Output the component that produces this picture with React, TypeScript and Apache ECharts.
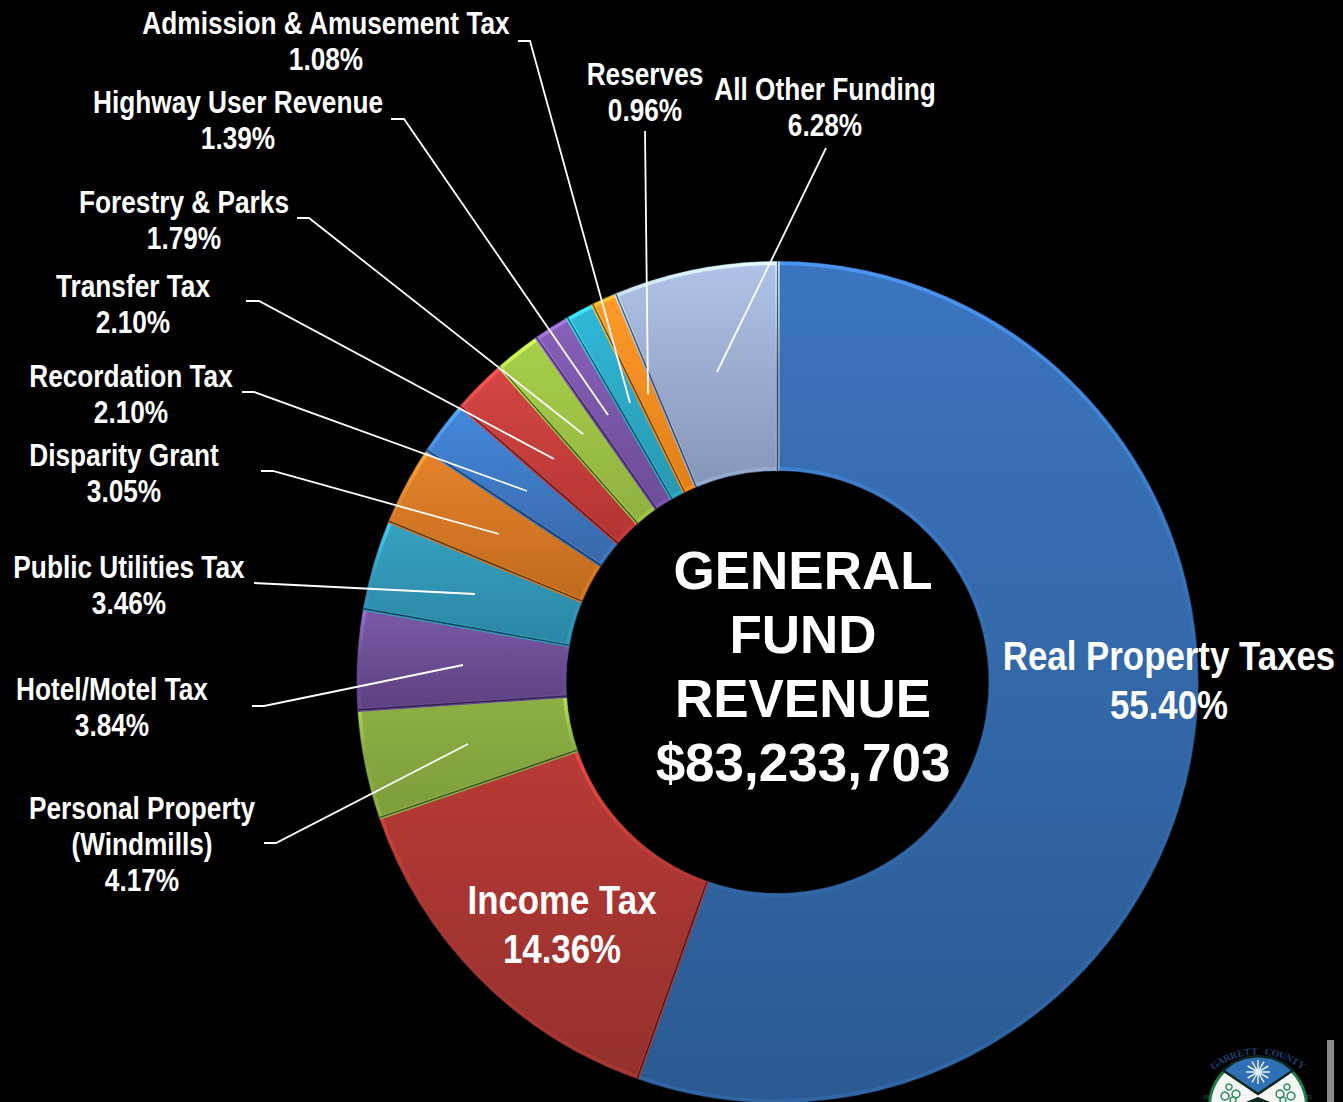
import React, { useEffect, useRef } from "react";
import * as echarts from "echarts";

const categories = [
  "Real Property Taxes", "Income Tax", "Personal Property\n(Windmills)", "Hotel/Motel Tax",
  "Public Utilities Tax", "Disparity Grant", "Recordation Tax", "Transfer Tax",
  "Forestry & Parks", "Highway User Revenue", "Admission & Amusement Tax", "Reserves", "All Other Funding",
];
const shares = [55.4, 14.36, 4.17, 3.84, 3.46, 3.05, 2.1, 2.1, 1.79, 1.39, 1.08, 0.96, 6.28];
const topColors = ["#3B75BE", "#B83A36", "#8DB044", "#7A5AA6", "#36A2C0", "#E5832A", "#4488DC", "#D44644", "#A8D048", "#8760B8", "#30B8D8", "#FF9A2A", "#AFC3E8"];
const bottomColors = ["#2B5A92", "#94302C", "#7C9C3A", "#5C4080", "#2A86A4", "#BF6A1E", "#3768A8", "#B23432", "#8FB040", "#6C4C98", "#2898B0", "#E07E18", "#8496B8"];
const centerLines = ["GENERAL", "FUND", "REVENUE", "$83,233,703"];

// label anchors: [centre x, centre y]
const labelAnchors: number[][] = [
  [1169, 680], [562, 924], [142, 844], [112, 707], [129, 585], [124, 473], [131, 394], [133, 304],
  [184, 220], [238, 120], [326, 41], [645, 92], [825, 107],
];
// leader lines, indexed like the slices
const leaders: (number[][] | null)[] = [
  null, null,
  [[264, 843], [276, 843], [468, 744]],
  [[252, 706], [264, 706], [463, 665]],
  [[254, 583], [475, 594]],
  [[261, 471], [273, 471], [499, 534]],
  [[242, 392], [254, 392], [527, 491]],
  [[246, 301], [259, 301], [554, 459]],
  [[297, 218], [309, 218], [583, 434]],
  [[391, 119], [404, 119], [608, 415]],
  [[518, 41], [530, 41], [630, 403]],
  [[645, 131], [648, 394]],
  [[826, 148], [717, 372]],
];

const SANS = "'Liberation Sans', Arial, sans-serif";
const SERIF = "'Liberation Serif', serif";
const vGrad = (stops: string[]) => ({
  type: "linear", x: 0, y: 0, x2: 0, y2: 1,
  colorStops: stops.map((color, i) => ({ offset: i / (stops.length - 1), color })),
});

const logoLetters = "GARRETT COUNTY".split("");
const logoCx = 1258;
const logoCy = 1106;
const arc = [-44.5, -30, -15, 0, 15, 30, 44.5].map((deg) => {
  const r = (deg * Math.PI) / 180;
  return [logoCx + 50 * Math.sin(r), logoCy - 50 * Math.cos(r)];
});
const greens = [[1229, 1087, 3], [1236, 1094, 4], [1225, 1096, 4], [1233, 1100, 3], [1287, 1087, 3], [1280, 1094, 4], [1291, 1096, 4], [1283, 1100, 3]];
const logoElements: any[] = [
  { type: "rect", shape: { x: 1327, y: 1040, width: 7, height: 62 }, style: { fill: "#8a8a8a" } },
  { type: "circle", shape: { cx: logoCx, cy: logoCy, r: 50 }, style: { fill: "#1f7a4c" } },
  { type: "circle", shape: { cx: logoCx, cy: logoCy, r: 47 }, style: { fill: "#f4f7f4" } },
  { type: "polygon", shape: { points: [[logoCx, 1094], ...arc] }, style: { fill: "#2f6fb4", stroke: "#08261c", lineWidth: 2.5, lineJoin: "round" } },
  { type: "polygon", shape: { points: [[logoCx, 1097], [logoCx - 12, 1102], [logoCx + 12, 1102]] }, style: { fill: "#08261c" } },
  ...[0, 30, 60, 90, 120, 150].map((a) => ({
    type: "line",
    shape: {
      x1: logoCx - 12 * Math.cos((a * Math.PI) / 180), y1: 1072 - 12 * Math.sin((a * Math.PI) / 180),
      x2: logoCx + 12 * Math.cos((a * Math.PI) / 180), y2: 1072 + 12 * Math.sin((a * Math.PI) / 180),
    },
    style: { stroke: "#e8f0f8", lineWidth: 1.5 },
  })),
  ...greens.map(([cx, cy, r]) => ({
    type: "circle", shape: { cx, cy, r }, style: { fill: "none", stroke: "#2f8a5c", lineWidth: 1.5 },
  })),
  ...logoLetters.map((ch, i) => {
    const a = -36 + (72 * i) / (logoLetters.length - 1);
    const r = (a * Math.PI) / 180;
    return {
      type: "text",
      x: logoCx + 74 * Math.sin(r),
      y: 1125 - 74 * Math.cos(r),
      rotation: -r,
      style: { text: ch, fill: "#1f3f70", font: `bold 10px ${SERIF}`, textAlign: "center", textVerticalAlign: "middle" },
    };
  }),
  { type: "text", x: 1206, y: 1097, style: { text: "19", fill: "#1f7a4c", font: `6px ${SERIF}`, textAlign: "center", textVerticalAlign: "middle" } },
  { type: "text", x: 1309, y: 1097, style: { text: "72", fill: "#1f7a4c", font: `6px ${SERIF}`, textAlign: "center", textVerticalAlign: "middle" } },
];

export default function App() {
  const ref = useRef<HTMLDivElement>(null);
  useEffect(() => {
    document.body.style.margin = "0";
    document.body.style.background = "#000";
    const chart = echarts.init(ref.current!, undefined, { renderer: "svg" });
    const fills = categories.map((name, i) => ({
      name,
      value: shares[i],
      itemStyle: {
        color: vGrad([topColors[i], bottomColors[i]]),
        borderColor: vGrad([
          echarts.color.lift(topColors[i], -0.28),
          echarts.color.lerp(0.5, [topColors[i], bottomColors[i]]),
          echarts.color.lift(bottomColors[i], -0.14),
        ]),
        borderWidth: 4,
        borderJoin: "miter",
      },
    }));
    const dividers = categories.map((name, i) => ({ name, value: shares[i] }));
    const labels = categories.map((name, i) => ({
      type: "text",
      x: labelAnchors[i][0],
      y: labelAnchors[i][1],
      scaleX: i < 2 ? 0.85 : 0.82,
      z: 12,
      style: {
        text: `${name}\n${shares[i].toFixed(2)}%`,
        fill: "#fff",
        font: `bold ${i < 2 ? 41 : 32}px ${SANS}`,
        lineHeight: i < 2 ? 49 : 36,
        textAlign: "center",
        textVerticalAlign: "middle",
      },
    }));
    const lines = leaders.flatMap((pts) =>
      pts ? [{ type: "polyline", z: 11, shape: { points: pts }, style: { stroke: "#fff", lineWidth: 1.8, fill: "none" } }] : []
    );
    chart.setOption({
      animation: false,
      backgroundColor: "#000",
      graphic: {
        elements: [
          ...centerLines.map((t, i) => ({
            type: "text", x: 803, y: 570 + 64 * i, z: 10,
            style: { text: t, fill: "#fff", font: `bold 53px ${SANS}`, textAlign: "center", textVerticalAlign: "middle" },
          })),
          ...lines,
          ...labels,
          ...logoElements,
        ],
      },
      series: [
        {
          type: "pie",
          silent: true,
          center: [777.5, 682],
          radius: [213, 419],
          startAngle: 90,
          clockwise: true,
          label: { show: false },
          labelLine: { show: false },
          data: fills,
        },
        {
          type: "pie",
          silent: true,
          center: [777.5, 682],
          radius: [211, 421],
          startAngle: 90,
          clockwise: true,
          label: { show: false },
          labelLine: { show: false },
          itemStyle: { color: "transparent", borderColor: "rgba(10,20,30,0.42)", borderWidth: 1.2 },
          data: dividers,
        },
      ],
    });
    return () => chart.dispose();
  }, []);
  return <div ref={ref} style={{ position: "absolute", left: 0, top: 0, width: 1343, height: 1102 }} />;
}
